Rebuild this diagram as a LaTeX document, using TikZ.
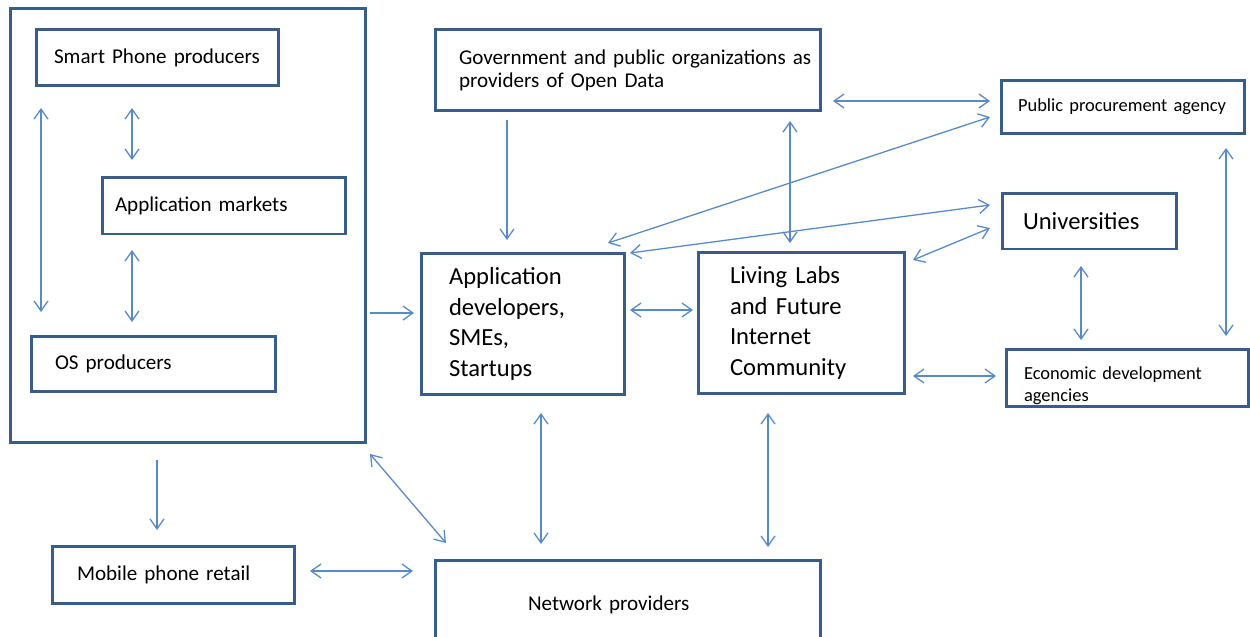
\documentclass[tikz,border=0pt]{standalone}
\usepackage{fontspec}
\setmainfont{Carlito}
\usetikzlibrary{arrows.meta,calc}
\definecolor{navy}{RGB}{56,93,138}
\definecolor{steel}{RGB}{88,138,200}
\tikzset{
  box/.style={rectangle,draw=navy,line width=0.06cm,outer sep=0pt,inner ysep=0pt,
              align=left,font=\fontsize{12}{13.2}\selectfont},
  bigbox/.style={box,font=\fontsize{14}{17.3}\selectfont},
  smallbox/.style={box,font=\fontsize{10.5}{12.5}\selectfont},
  flow/.style={-{Straight Barb[length=0.2cm,width=0.28cm]},line width=0.026cm,draw=steel},
  flowb/.style={{Straight Barb[length=0.2cm,width=0.28cm]}-{Straight Barb[length=0.2cm,width=0.28cm]},
              line width=0.026cm,draw=steel},
}

\begin{document}
\begin{tikzpicture}[x=0.02cm,y=-0.02cm]
  \useasboundingbox (0,0) rectangle (1250,636);
  % phone side
  \node[box,minimum width=7.12cm,minimum height=8.7cm] (phones) at (188,225.5) {};
  \node[box,minimum width=4.86cm,minimum height=1.14cm,text width=4.14cm] (smart) at (157.5,57.5) {Smart Phone producers};
  \node[box,minimum width=4.88cm,minimum height=1.14cm,text width=4.36cm] (markets) at (224,205.5) {Application markets};
  \node[box,minimum width=4.9cm,minimum height=1.1cm,text width=3.94cm] (os) at (153.5,363.5) {OS producers};
  \node[box,minimum width=4.86cm,minimum height=1.14cm,text width=3.86cm] (retail) at (173.5,574.5) {Mobile phone retail};
  % middle
  \node[box,minimum width=7.72cm,minimum height=1.64cm,text width=6.76cm] (gov) at (628,70)
    {\mbox{Government and public organizations as}\\providers of Open Data};
  \node[bigbox,minimum width=4.08cm,minimum height=2.84cm,text width=2.96cm] (appdev) at (523,324)
    {Application\\developers,\\SMEs,\\Startups};
  \node[bigbox,minimum width=4.14cm,minimum height=2.84cm,text width=2.86cm] (living) at (801.5,323)
    {Living Labs\\and Future\\Internet\\Community};
  \node[box,minimum width=7.72cm,minimum height=1.8cm,text width=4cm] (network) at (628,605) {Network providers};
  % right side
  \node[smallbox,minimum width=4.88cm,minimum height=1.08cm,text width=4.2cm] (procure) at (1123,107)
    {\mbox{Public procurement agency}};
  \node[bigbox,minimum width=3.48cm,minimum height=1.12cm,text width=2.64cm] (univ) at (1089,221) {Universities};
  \node[smallbox,minimum width=4.86cm,minimum height=1.14cm,text width=4.14cm,text height=16.5pt] (econ) at (1127.5,377.5)
    {Economic development\\agencies};

  \draw[flowb,shorten <=0.44cm,shorten >=0.48cm] (41,0 |- smart.south) -- (41,0 |- os.north);
  \draw[flowb,shorten <=0.44cm,shorten >=0.34cm] (132,0 |- smart.south) -- (132,0 |- markets.north);
  \draw[flowb,shorten <=0.32cm,shorten >=0.28cm] (132,0 |- markets.south) -- (132,0 |- os.north);
  \draw[flow,shorten <=0.08cm,shorten >=0.14cm] (phones.east |- 0,313) -- (appdev.west |- 0,313);
  \draw[flow,shorten <=0.34cm,shorten >=0.32cm] (157,0 |- phones.south) -- (157,0 |- retail.north);
  \draw[flowb,shorten <=0.3cm,shorten >=0.44cm] (retail.east |- 0,571) -- (network.west |- 0,571);
  \draw[flowb] ([shift={(4,11)}]phones.south east) -- ([shift={(11,-17)}]network.north west);
  \draw[flowb,shorten <=0.36cm,shorten >=0.32cm] (541,0 |- appdev.south) -- (541,0 |- network.north);
  \draw[flowb,shorten <=0.38cm,shorten >=0.26cm] (768,0 |- living.south) -- (768,0 |- network.north);
  \draw[flowb,shorten <=0.1cm,shorten >=0.1cm] (appdev.east |- 0,310) -- (living.west |- 0,310);
  \draw[flow,shorten <=0.18cm,shorten >=0.26cm] (507,0 |- gov.south) -- (507,0 |- appdev.north);
  \draw[flowb,shorten <=0.2cm,shorten >=0.18cm] (790,0 |- gov.south) -- (790,0 |- living.north);
  \draw[flowb,shorten <=0.24cm,shorten >=0.22cm] (gov.east |- 0,101) -- (procure.west |- 0,101);
  \draw[flowb] ([shift={(-11,10)}]procure.west) -- ([shift={(-17,-10)}]appdev.north east);
  \draw[flowb] ([shift={(-12,-16)}]univ.west) -- ([shift={(5,0)}]appdev.north east);
  \draw[flowb] ([shift={(-12,7)}]univ.west) -- ([shift={(8,8)}]living.north east);
  \draw[flowb,shorten <=0.16cm,shorten >=0.2cm] (living.east |- 0,376) -- (econ.west |- 0,376);
  \draw[flowb,shorten <=0.34cm,shorten >=0.18cm] (1081,0 |- univ.south) -- (1081,0 |- econ.north);
  \draw[flowb,shorten <=0.28cm,shorten >=0.26cm] (1226,0 |- procure.south) -- (1226,0 |- econ.north);
\end{tikzpicture}
\end{document}
